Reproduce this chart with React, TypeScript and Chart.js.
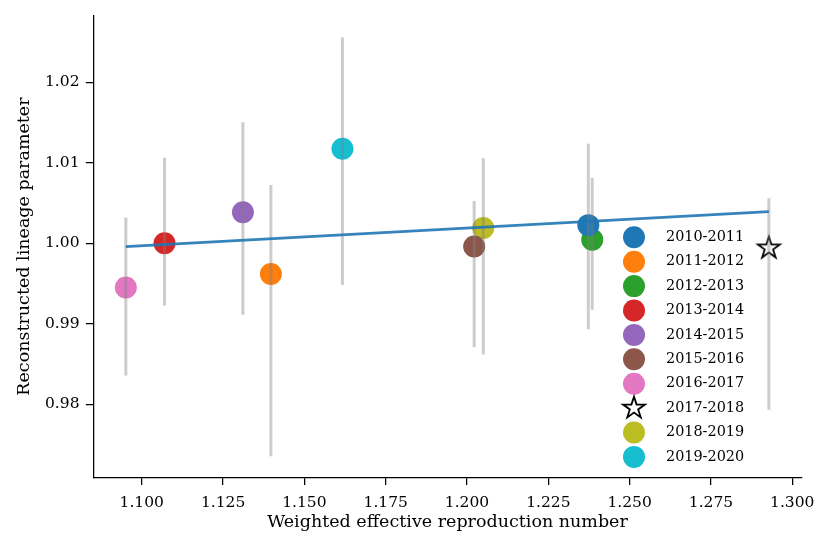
import { useEffect, useRef } from 'react';
import { Chart, registerables } from 'chart.js';

Chart.register(...registerables);

const seasons = [
  '2010-2011', '2011-2012', '2012-2013', '2013-2014', '2014-2015',
  '2015-2016', '2016-2017', '2017-2018', '2018-2019', '2019-2020',
];
const seasonColors = [
  '#1f77b4', '#ff7f0e', '#2ca02c', '#d62728', '#9467bd',
  '#8c564b', '#e377c2', 'star', '#bcbd22', '#17becf',
];
const reproNumber = [1.2373, 1.1397, 1.2385, 1.1070, 1.1311, 1.2022, 1.0951, 1.2928, 1.2050, 1.1617];
const lineageParam = [1.00226, 0.99618, 1.00046, 1.0000, 1.00387, 0.9996, 0.99452, 0.9994, 1.0019, 1.01175];
const lowerBound = [0.98932, 0.97354, 0.99176, 0.99226, 0.99114, 0.9871, 0.98358, 0.97933, 0.98618, 0.99482];
const upperBound = [1.01237, 1.00725, 1.00815, 1.01063, 1.01506, 1.00527, 1.0032, 1.0056, 1.01056, 1.02559];
const fitX = [1.0951, 1.2928];
const fitY = [0.99958, 1.00394];
const xTicks = [1.1, 1.125, 1.15, 1.175, 1.2, 1.225, 1.25, 1.275, 1.3];
const yTicks = [0.98, 0.99, 1.0, 1.01, 1.02];

const FONT = "'DejaVu Serif', serif";

function starPath(ctx: CanvasRenderingContext2D, cx: number, cy: number, R: number) {
  const r = R * 0.381966;
  ctx.beginPath();
  for (let i = 0; i < 10; i++) {
    const ang = -Math.PI / 2 + (i * Math.PI) / 5;
    const rad = i % 2 === 0 ? R : r;
    const px = cx + rad * Math.cos(ang);
    const py = cy + rad * Math.sin(ang);
    if (i === 0) ctx.moveTo(px, py);
    else ctx.lineTo(px, py);
  }
  ctx.closePath();
}

function drawStar(ctx: CanvasRenderingContext2D, cx: number, cy: number) {
  ctx.save();
  starPath(ctx, cx, cy, 11.5);
  ctx.fillStyle = '#ffffff';
  ctx.fill();
  ctx.lineWidth = 1.8;
  ctx.lineJoin = 'miter';
  ctx.strokeStyle = '#000000';
  ctx.stroke();
  ctx.restore();
}

function makeStarCanvas() {
  const c = document.createElement('canvas');
  c.width = 32;
  c.height = 32;
  const ctx = c.getContext('2d')!;
  drawStar(ctx, 16, 16);
  return c;
}

const innerLegend = {
  id: 'innerLegend',
  afterDraw(chart: any) {
    const ctx: CanvasRenderingContext2D = chart.ctx;
    const area = chart.chartArea;
    const mx = area.right - 167.7;
    const tx = area.right - 135.7;
    const y0 = area.bottom - 240.2;
    const step = 24.4;
    ctx.save();
    ctx.font = `14.4px ${FONT}`;
    ctx.textBaseline = 'middle';
    ctx.textAlign = 'left';
    seasons.forEach((label, i) => {
      const y = y0 + i * step;
      if (seasonColors[i] === 'star') {
        drawStar(ctx, mx, y);
      } else {
        ctx.beginPath();
        ctx.arc(mx, y, 11, 0, Math.PI * 2);
        ctx.fillStyle = seasonColors[i];
        ctx.fill();
      }
      ctx.fillStyle = '#000';
      ctx.fillText(label, tx, y);
    });
    ctx.restore();
  },
};

export default function App() {
  const ref = useRef<HTMLCanvasElement | null>(null);

  useEffect(() => {
    if (!ref.current) return;
    const star = makeStarCanvas();

    const pointSets = seasons.map((label, i) => ({
      type: 'scatter' as const,
      label,
      data: [{ x: reproNumber[i], y: lineageParam[i] }],
      backgroundColor: seasonColors[i] === 'star' ? '#fff' : seasonColors[i],
      borderWidth: 0,
      pointRadius: 11,
      pointStyle: seasonColors[i] === 'star' ? (star as any) : 'circle',
      order: 2,
    }));

    const errorSets = seasons.map((label, i) => ({
      type: 'line' as const,
      label: `err-${label}`,
      data: [
        { x: reproNumber[i], y: lowerBound[i] },
        { x: reproNumber[i], y: upperBound[i] },
      ],
      borderColor: 'rgba(128,128,128,0.4)',
      borderWidth: 3,
      borderCapStyle: 'butt' as const,
      pointRadius: 0,
      showLine: true,
      fill: false,
      order: 1,
    }));

    const fitSet = {
      type: 'line' as const,
      label: 'fit',
      data: fitX.map((x, i) => ({ x, y: fitY[i] })),
      borderColor: 'rgba(31,119,180,0.9)',
      borderWidth: 2.8,
      pointRadius: 0,
      showLine: true,
      fill: false,
      order: 0,
    };

    const chart = new Chart(ref.current, {
      type: 'scatter',
      data: { datasets: [...pointSets, ...errorSets, fitSet] as any },
      options: {
        animation: false,
        responsive: false,
        events: [],
        layout: { padding: { top: 14, right: 29.3, left: 0, bottom: 0 } },
        plugins: {
          legend: { display: false },
          tooltip: { enabled: false },
        },
        scales: {
          x: {
            type: 'linear',
            min: 1.0851,
            max: 1.3029,
            afterFit: (s: any) => { s.height = 75.5; },
            afterBuildTicks: (s: any) => { s.ticks = xTicks.map((v) => ({ value: v })); },
            ticks: {
              color: '#000',
              padding: 9,
              font: { family: FONT, size: 15.5 },
              maxRotation: 0,
              autoSkip: false,
              callback: (v: any) => Number(v).toFixed(3),
            },
            grid: {
              drawOnChartArea: false,
              drawTicks: true,
              tickLength: 7.5,
              color: '#000',
              lineWidth: 1.25,
            },
            border: { display: true, color: '#000', width: 1.25 },
            title: {
              display: true,
              text: 'Weighted effective reproduction number',
              color: '#000',
              font: { family: FONT, size: 17.5 },
              padding: { top: 0, bottom: 20.5 },
            },
          },
          y: {
            type: 'linear',
            min: 0.9709,
            max: 1.0283,
            afterFit: (s: any) => { s.width = 93.3; },
            afterBuildTicks: (s: any) => { s.ticks = yTicks.map((v) => ({ value: v })); },
            ticks: {
              color: '#000',
              padding: 6.3,
              font: { family: FONT, size: 15.5 },
              autoSkip: false,
              callback: (v: any) => Number(v).toFixed(2),
            },
            grid: {
              drawOnChartArea: false,
              drawTicks: true,
              tickLength: 7.5,
              color: '#000',
              lineWidth: 1.25,
            },
            border: { display: true, color: '#000', width: 1.25 },
            title: {
              display: true,
              text: 'Reconstructed lineage parameter',
              color: '#000',
              font: { family: FONT, size: 17.5 },
              padding: { top: 14.1, bottom: 0 },
            },
          },
        },
      },
      plugins: [innerLegend],
    });

    return () => chart.destroy();
  }, []);

  return (
    <div style={{ position: 'fixed', left: 0, top: 0, width: 831, height: 553, background: '#fff' }}>
      <canvas ref={ref} width={831} height={553} style={{ width: 831, height: 553, display: 'block' }} />
    </div>
  );
}
